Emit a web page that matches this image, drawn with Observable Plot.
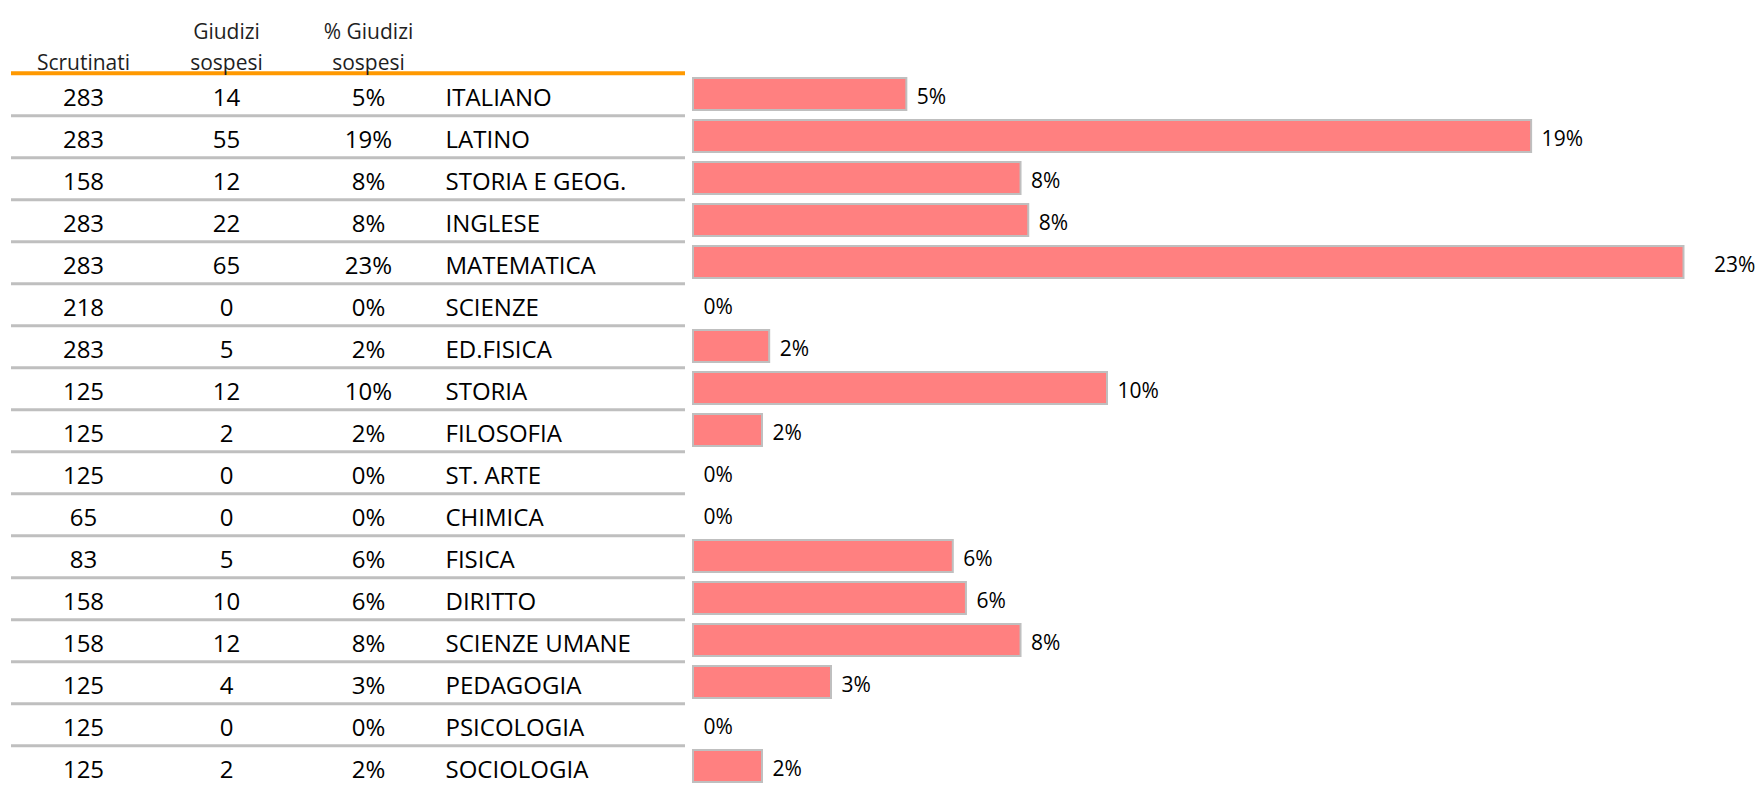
<!DOCTYPE html>
<html><head><meta charset="utf-8">
<script src="https://cdn.jsdelivr.net/npm/d3@7"></script>
<script src="https://cdn.jsdelivr.net/npm/@observablehq/plot@0.6"></script>
<style>
html,body{margin:0;padding:0;background:#fff;overflow:hidden;}
#wrap{display:flex;width:1762px;}
#wrap svg{display:block;flex:none;}
</style></head><body><div id="wrap"></div>
<script>
const subjects = ["ITALIANO","LATINO","STORIA E GEOG.","INGLESE","MATEMATICA","SCIENZE","ED.FISICA","STORIA","FILOSOFIA","ST. ARTE","CHIMICA","FISICA","DIRITTO","SCIENZE UMANE","PEDAGOGIA","PSICOLOGIA","SOCIOLOGIA"];
const scrutinati = [283,283,158,283,283,218,283,125,125,125,65,83,158,158,125,125,125];
const sospesi = [14,55,12,22,65,0,5,12,2,0,0,5,10,12,4,0,2];
const headerLabels = ["Scrutinati", "Giudizi\nsospesi", "% Giudizi\nsospesi"];

const rows = subjects.map((s, i) => ({subject: s, scrutinati: scrutinati[i], sospesi: sospesi[i], pct: sospesi[i] / scrutinati[i]}));
const maxPct = d3.max(rows, d => d.pct);
const fmt = d3.format(".0%");
const H = 792, MT = 71, MB = 2.4;
const step = (H - MT - MB) / subjects.length;
const yScale = {domain: subjects, paddingInner: 0.24, paddingOuter: 0.12, axis: null};
const font = "'Open Sans', sans-serif";
const colDx = [72, 215, 357];
const rowText = {frameAnchor: "left", dy: 4, fontSize: 24, fill: "#000"};
const headText = {frameAnchor: "top-left", lineAnchor: "top", lineHeight: 1.48, textAnchor: "middle", fontSize: 21, fill: "#1f1f1f"};

const left = Plot.plot({
  width: 692, height: H, marginTop: MT, marginBottom: MB, marginLeft: 11, marginRight: 7,
  x: {axis: null}, y: yScale,
  style: {fontFamily: font, background: "transparent", overflow: "visible"},
  marks: [
    Plot.ruleY(rows, {y: "subject", dy: step / 2, stroke: "#bfbfbf", strokeWidth: 3}),
    Plot.ruleY([rows[0]], {y: "subject", dy: -step / 2, stroke: "#ff9900", strokeWidth: 4}),
    Plot.text(rows, {...rowText, y: "subject", text: d => String(d.scrutinati), dx: colDx[0], textAnchor: "middle"}),
    Plot.text(rows, {...rowText, y: "subject", text: d => String(d.sospesi), dx: colDx[1], textAnchor: "middle"}),
    Plot.text(rows, {...rowText, y: "subject", text: d => fmt(d.pct), dx: colDx[2], textAnchor: "middle"}),
    Plot.text(rows, {...rowText, y: "subject", text: "subject", dx: 434, textAnchor: "start"}),
    Plot.text([headerLabels[0]], {...headText, text: d => d, dx: colDx[0], dy: -24}),
    Plot.text([headerLabels[1]], {...headText, text: d => d, dx: colDx[1], dy: -55}),
    Plot.text([headerLabels[2]], {...headText, text: d => d, dx: colDx[2], dy: -55})
  ]
});

const labelStyle = {x: "pct", y: "subject", text: d => fmt(d.pct), textAnchor: "start", dy: 3, fontSize: 21, fill: "#000"};
const right = Plot.plot({
  width: 1070, height: H, marginTop: MT, marginBottom: MB, marginLeft: 1, marginRight: 34,
  x: {domain: [0, 0.24], axis: null}, y: yScale,
  style: {fontFamily: font, background: "transparent", overflow: "visible"},
  marks: [
    Plot.barX(rows.filter(d => d.pct > 0), {x: "pct", y: "subject", fill: "#ff8080", stroke: "#bfbfbf", strokeWidth: 2}),
    Plot.text(rows.filter(d => d.pct < maxPct), {...labelStyle, dx: 10}),
    Plot.text(rows.filter(d => d.pct === maxPct), {...labelStyle, dx: 30})
  ]
});

document.getElementById("wrap").append(left, right);
</script></body></html>
